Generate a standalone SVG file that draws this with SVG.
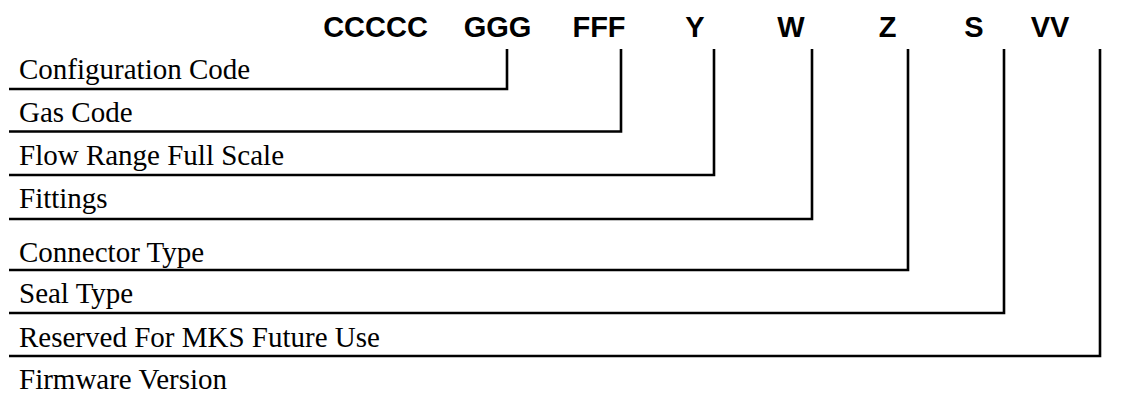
<svg xmlns="http://www.w3.org/2000/svg" width="1135" height="395" viewBox="0 0 1135 395">
<style>
.code{font-family:"Liberation Sans",Arial,sans-serif;font-weight:bold;font-size:29px;fill:#000;text-anchor:middle}
.lbl{font-family:"Liberation Serif","Times New Roman",serif;font-size:29px;fill:#000}
.ln{fill:none;stroke:#000;stroke-width:2.6}
</style>
<rect width="1135" height="395" fill="#fff"/>
<g id="codes">
<text class="code" x="375.5" y="37">CCCCC</text>
<text class="code" x="497.5" y="37">GGG</text>
<text class="code" x="599" y="37">FFF</text>
<text class="code" x="695" y="37">Y</text>
<text class="code" x="791" y="37">W</text>
<text class="code" x="887.5" y="37">Z</text>
<text class="code" x="974" y="37">S</text>
<text class="code" x="1050" y="37">VV</text>
</g>
<g id="labels">
<g id="n1"><text class="lbl" x="19" y="79">Configuration Code</text></g>
<g id="n2"><text class="lbl" x="19" y="122">Gas Code</text></g>
<g id="n3"><text class="lbl" x="19" y="165">Flow Range Full Scale</text></g>
<g id="n4"><text class="lbl" x="19" y="208">Fittings</text></g>
<g id="n5"><text class="lbl" x="19" y="262">Connector Type</text></g>
<g id="n6"><text class="lbl" x="19" y="303">Seal Type</text></g>
<g id="n7"><text class="lbl" x="19" y="347">Reserved For MKS Future Use</text></g>
<g id="n8"><text class="lbl" x="19" y="389">Firmware Version</text></g>
</g>
<g id="connectors">
<polyline class="ln" points="9,89 507,89 507,49"/>
<polyline class="ln" points="9,131.5 621,131.5 621,49"/>
<polyline class="ln" points="9,175 714,175 714,49"/>
<polyline class="ln" points="9,219 812,219 812,49"/>
<polyline class="ln" points="9,270 908,270 908,49"/>
<polyline class="ln" points="9,313 1004,313 1004,49"/>
<polyline class="ln" points="9,356 1100,356 1100,49"/>
</g>
</svg>
